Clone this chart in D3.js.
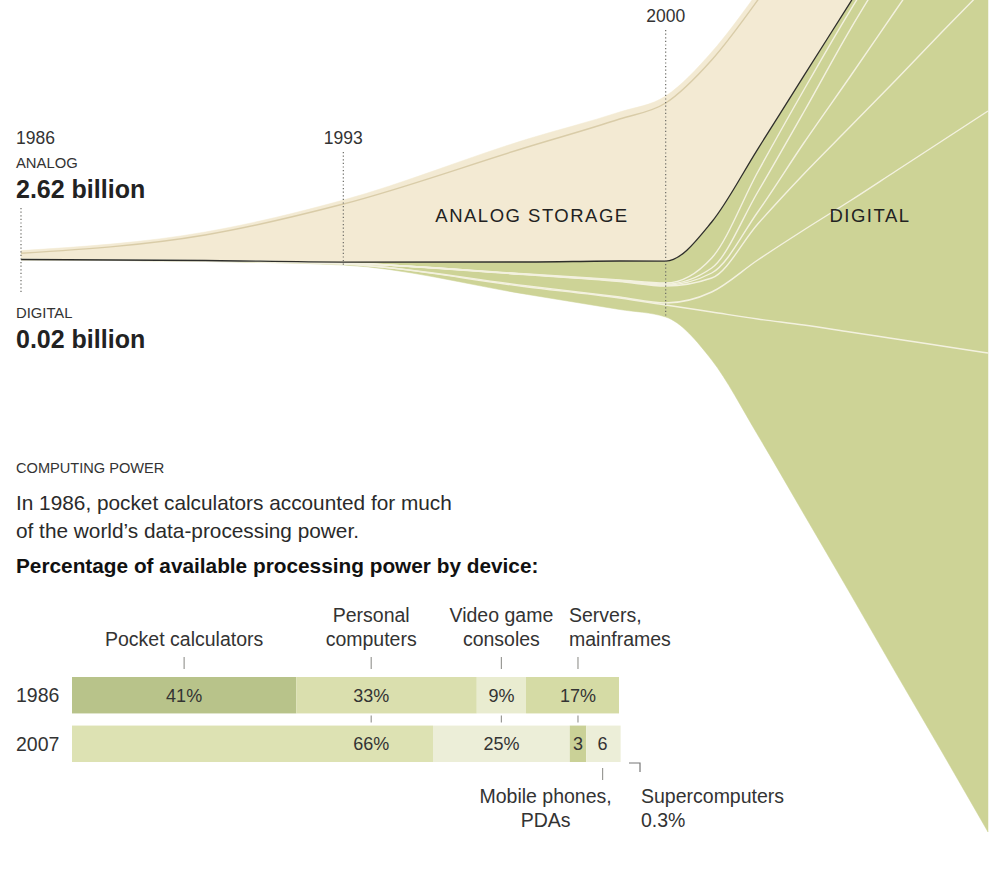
<!DOCTYPE html>
<html>
<head>
<meta charset="utf-8">
<script src="https://cdn.jsdelivr.net/npm/d3@7"></script>
<style>
    body { margin: 0; background: #fff; }
    svg { display: block; font-family: "Liberation Sans", Arial, sans-serif; }
</style>
</head>
<body>
<svg id="chart" width="992" height="886"></svg>
<script>
// storage, billion gigabytes
const years = [1986, 1990, 1993, 1997, 1999, 2000, 2001, 2002, 2003, 2004, 2005, 2006, 2007];
const digitalBottom = [-0.02, -0.59, -1.62, -10.29, -14.71, -16.91, -29.56, -51.62, -74.85, -98.09, -121.62, -144.85, -168.38];
const digital7 = [0.02, 0.15, 0.29, 2.21, 3.38, 3.53, 14.12, 34.12, 55.59, 76.76, 98.24, 119.41, 140.88];
const digital6 = [0, 0, 0, 0.29, 0.29, 0.59, 5.88, 17.35, 27.94, 38.53, 49.41, 60.29, 71.18];
const digital5 = [0, 0.09, 0.29, 3.26, 4.56, 5.0, 4.12, 10.59, 16.47, 21.76, 26.76, 32.06, 37.06];
const digital4 = [0, 0, 0, 0.09, 0.15, 0.29, 1.47, 3.53, 9.12, 14.71, 20.59, 26.18, 32.06];
const digital3 = [0, 0, 0, 0.09, 0.15, 0.29, 1.47, 5.88, 9.12, 13.82, 16.18, 17.94, 19.41];
const digital2 = [0, 0, 0, 0.09, 0.15, 0.29, 2.94, 5.88, 6.47, 5.59, 4.71, 4.41, 4.41];
const digital1 = [0, 0.06, 0.29, 3.53, 5.59, 6.47, 10.59, 6.76, 4.12, 2.35, 2.65, 2.94, 3.24];
const analogMain = [1.82, 7.5, 17.06, 33.82, 41.76, 46.47, 47.65, 43.82, 42.35, 39.1, 35.0, 29.1, 23.5];
const analogOther = [0.8, 0.88, 1.18, 2.35, 2.06, 2.06, 2.35, 2.35, 2.06, 2.06, 1.76, 1.76, 1.47];
const markedYears = [1986, 1993, 2000];

// computing power, percent of total
const devices = ["Pocket calculators", "Personal computers", "Video game consoles", "Servers, mainframes", "Mobile phones, PDAs", "Supercomputers"];
const deviceTick = [20.5, 54.7, 78.5, 92.5, 97, 100];
const barYears = ["1986", "2007"];
const share1986 = [41, 33, 9, 17, 0, 0];
const share2007 = [0, 66, 25, 3, 6, 0.3];
const shareLabels1986 = ["41%", "33%", "9%", "17%", "", ""];
const shareLabels2007 = ["", "66%", "25%", "3", "6", ""];

const GREEN = "#cdd396";
const CREAM = "#f3ead3";
const colors1986 = ["#b8c38a", "#dadfae", "#e9ecd0", "#d5dba5", "#eceed8", "#eceed8"];
const colors2007 = ["#b8c38a", "#dde2b3", "#eceed8", "#cad197", "#eceed8", "#eceed8"];

const svg = d3.select("#chart");

// ---------- storage streams ----------
const keys = ["d7", "d6", "d5", "d4", "d3", "d2", "d1", "a2", "a1"];
const layerValues = [digital7, digital6, digital5, digital4, digital3, digital2, digital1, analogMain, analogOther];
const rows = years.map((year, i) => {
    const row = { year };
    keys.forEach((k, j) => { row[k] = layerValues[j][i]; });
    return row;
});

const stack = d3.stack()
    .keys(keys)
    .offset((series, order) => {
        d3.stackOffsetNone(series, order);
        series.forEach((s) => s.forEach((p, j) => {
            p[0] += digitalBottom[j];
            p[1] += digitalBottom[j];
        }));
    });
const layers = stack(rows);

const x = d3.scaleLinear().domain([1986, 2007]).range([21, 988]);
const y = d3.scaleLinear().domain([0, 10]).range([259.5, 225.5]);

svg.append("clipPath").attr("id", "plotClip")
    .append("rect").attr("x", 0).attr("y", 0).attr("width", 989).attr("height", 886);

const plot = svg.append("g").attr("clip-path", "url(#plotClip)");

const area = d3.area()
    .x((d) => x(d.data.year))
    .y0((d) => y(d[0]))
    .y1((d) => y(d[1]))
    .curve(d3.curveMonotoneX);

const edge = d3.line()
    .x((d) => x(d.data.year))
    .y((d) => y(d[1]))
    .curve(d3.curveMonotoneX);

plot.selectAll("path.layer")
    .data(layers)
    .enter()
    .append("path")
    .attr("class", "layer")
    .attr("fill", (d) => d.key.startsWith("a") ? CREAM : GREEN)
    .attr("stroke", (d) => d.key.startsWith("a") ? CREAM : GREEN)
    .attr("stroke-width", 0.5)
    .attr("d", area);

plot.selectAll("path.edge")
    .data(layers.filter((d) => d.key !== "a1"))
    .enter()
    .append("path")
    .attr("class", "edge")
    .attr("fill", "none")
    .attr("stroke", (d) => d.key === "d1" ? "#2e2e2a" : d.key === "a2" ? "#d9cca8" : "#f3f1df")
    .attr("stroke-width", (d) => d.key === "d1" ? 1.3 : 1.4)
    .attr("d", edge);

// dotted year markers
const markerSpan = { 1986: [208, 294], 1993: [152, 265], 2000: [30, 318] };
svg.selectAll("line.marker")
    .data(markedYears)
    .enter()
    .append("line")
    .attr("x1", (d) => x(d))
    .attr("x2", (d) => x(d))
    .attr("y1", (d) => markerSpan[d][0])
    .attr("y2", (d) => markerSpan[d][1])
    .attr("stroke", "#6b6b66")
    .attr("stroke-width", 1.2)
    .attr("stroke-dasharray", "1.2,2.4");

const txt = (gx, gy, str, opts = {}) => svg.append("text")
    .attr("x", gx).attr("y", gy)
    .attr("font-size", opts.size || 15)
    .attr("font-weight", opts.bold ? "bold" : "normal")
    .attr("text-anchor", opts.anchor || "start")
    .attr("letter-spacing", opts.spacing || 0)
    .attr("fill", opts.color || "#222")
    .text(str);

txt(16, 144, "1986", { size: 17.5, color: "#333" });
txt(x(1993), 144, "1993", { size: 17.5, anchor: "middle", color: "#333" });
txt(x(2000), 22, "2000", { size: 17.5, anchor: "middle", color: "#333" });
txt(16, 168, "ANALOG", { size: 14.8, color: "#333" });
txt(16, 198, "2.62 billion", { size: 25, bold: true });
txt(16, 318, "DIGITAL", { size: 14.8, color: "#333" });
txt(16, 348, "0.02 billion", { size: 25, bold: true });
txt(532, 222, "ANALOG STORAGE", { size: 18.5, anchor: "middle", spacing: 1.5 });
txt(870, 222, "DIGITAL", { size: 18.5, anchor: "middle", spacing: 1.5 });

// ---------- computing power ----------
txt(16, 473, "COMPUTING POWER", { size: 14.6, color: "#333" });
txt(16, 510, "In 1986, pocket calculators accounted for much", { size: 20.8, color: "#2a2a2a" });
txt(16, 538, "of the world\u2019s data-processing power.", { size: 20.8, color: "#2a2a2a" });
txt(16, 573, "Percentage of available processing power by device:", { size: 20.8, bold: true, color: "#111" });

const bx = d3.scaleLinear().domain([0, 100]).range([72, 619]);
const by = d3.scaleBand().domain(barYears).range([677, 762]).paddingInner(0.25);

const barData = [
    { year: "1986", shares: share1986, labels: shareLabels1986, colors: colors1986 },
    { year: "2007", shares: share2007, labels: shareLabels2007, colors: colors2007 },
];

const bars = svg.append("g");
barData.forEach((row) => {
    let start = 0;
    row.shares.forEach((v, i) => {
        if (v > 0) {
            bars.append("rect")
                .attr("x", bx(start))
                .attr("y", by(row.year))
                .attr("width", bx(start + v) - bx(start))
                .attr("height", by.bandwidth())
                .attr("fill", row.colors[i]);
        }
        if (row.labels[i]) {
            txt(bx(deviceTick[i]), by(row.year) + by.bandwidth() / 2 + 6.5, row.labels[i], { size: 18, anchor: "middle", color: "#333" });
        }
        start += v;
    });
    txt(16, by(row.year) + by.bandwidth() / 2 + 7, row.year, { size: 19.5, color: "#333" });
});

// device names above the bars
const headLines = [["Pocket calculators"], ["Personal", "computers"], ["Video game", "consoles"], ["Servers,", "mainframes"]];
headLines.forEach((lines, i) => {
    const anchor = i === 3 ? "start" : "middle";
    const hx = i === 3 ? bx(deviceTick[i]) - 9 : bx(deviceTick[i]);
    lines.forEach((line, k) => {
        txt(hx, 646 - (lines.length - 1 - k) * 24, line, { size: 19.5, anchor, color: "#333" });
    });
});

const tickColor = "#9a9a96";
const top1986 = by("1986");
const bottom1986 = by("1986") + by.bandwidth();
const top2007 = by("2007");
const bottom2007 = by("2007") + by.bandwidth();

[0, 1, 2, 3].forEach((i) => {
    bars.append("line")
        .attr("x1", bx(deviceTick[i])).attr("x2", bx(deviceTick[i]))
        .attr("y1", top1986 - 20).attr("y2", top1986 - 8)
        .attr("stroke", tickColor).attr("stroke-width", 1.2);
});
[1, 2, 3].forEach((i) => {
    bars.append("line")
        .attr("x1", bx(deviceTick[i])).attr("x2", bx(deviceTick[i]))
        .attr("y1", bottom1986 + 2).attr("y2", top2007 - 3)
        .attr("stroke", tickColor).attr("stroke-width", 1.2);
});
bars.append("line")
    .attr("x1", bx(deviceTick[4])).attr("x2", bx(deviceTick[4]))
    .attr("y1", bottom2007 + 6).attr("y2", bottom2007 + 18)
    .attr("stroke", tickColor).attr("stroke-width", 1.2);
bars.append("path")
    .attr("d", `M${bx(deviceTick[5]) + 10},${bottom2007 + 1}H${bx(deviceTick[5]) + 21}V${bottom2007 + 10}`)
    .attr("fill", "none")
    .attr("stroke", "#777")
    .attr("stroke-width", 1.2);

txt(bx(deviceTick[4]) - 57, 803, "Mobile phones,", { size: 19.5, anchor: "middle", color: "#333" });
txt(bx(deviceTick[4]) - 57, 827, "PDAs", { size: 19.5, anchor: "middle", color: "#333" });
txt(bx(deviceTick[5]) + 22, 803, "Supercomputers", { size: 19.5, color: "#333" });
txt(bx(deviceTick[5]) + 22, 827, "0.3%", { size: 19.5, color: "#333" });
</script>
</body>
</html>
